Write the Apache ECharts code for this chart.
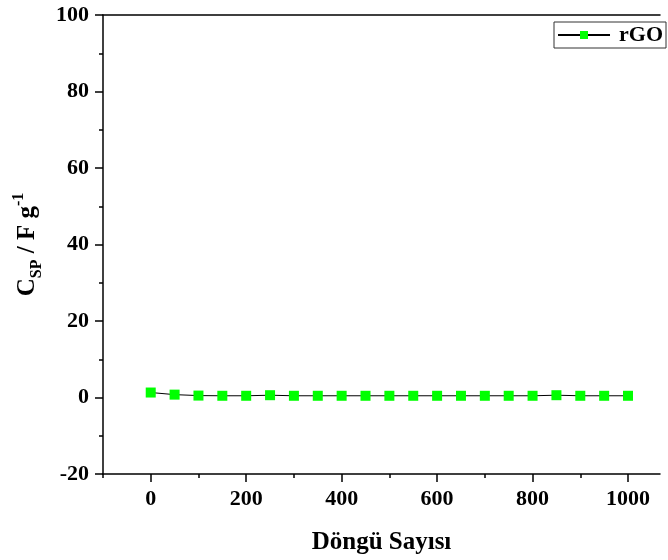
<!DOCTYPE html>
<html><head><meta charset="utf-8">
<script src="https://cdn.jsdelivr.net/npm/echarts@6/dist/echarts.min.js"></script>
<style>html,body{margin:0;padding:0;background:#fff}#c{width:668px;height:560px}</style>
</head><body><div id="c"></div>
<script>
const cycles = [0,50,100,150,200,250,300,350,400,450,500,550,600,650,700,750,800,850,900,950,1000];
const csp = [1.3,0.75,0.5,0.45,0.45,0.6,0.45,0.45,0.45,0.45,0.45,0.45,0.45,0.45,0.45,0.45,0.45,0.6,0.45,0.45,0.45];
const xTickLabels = [0,200,400,600,800,1000];
const xMinorTicks = [-100,100,300,500,700,900];
const seriesName = 'rGO';
const xTitle = 'Döngü Sayısı';

const FONT = '"Liberation Serif", "Times New Roman", serif';
const chart = echarts.init(document.getElementById('c'));
const xRange = {min: -100, max: 1067};
chart.setOption({
  animation: false,
  backgroundColor: '#fff',
  textStyle: {fontFamily: FONT},
  grid: {left: 103, top: 15, right: 8, bottom: 86, containLabel: false},
  legend: {
    show: true, right: 2, top: 22, orient: 'vertical',
    borderColor: '#333', borderWidth: 1, padding: [2, 3, 2, 3],
    itemWidth: 52, itemHeight: 10, itemGap: 4,
    textStyle: {fontFamily: FONT, fontWeight: 'bold', fontSize: 22, color: '#000', padding: [0, 0, 0, 4]},
    data: [seriesName]
  },
  xAxis: [
    {
      type: 'value', position: 'bottom', ...xRange,
      name: xTitle, nameLocation: 'middle', nameGap: 56,
      nameTextStyle: {fontFamily: FONT, fontWeight: 'bold', fontSize: 25, color: '#000'},
      axisLine: {show: true, onZero: false, lineStyle: {color: '#000', width: 1.5}},
      axisTick: {show: true, inside: false, length: 8, lineStyle: {color: '#000', width: 1.5}, customValues: xTickLabels},
      axisLabel: {show: true, margin: 14, fontFamily: FONT, fontWeight: 'bold', fontSize: 22, color: '#000', customValues: xTickLabels, formatter: v => String(v)},
      splitLine: {show: false}
    },
    {
      type: 'value', position: 'bottom', ...xRange, gridIndex: 0,
      axisLine: {show: false, onZero: false},
      axisTick: {show: true, inside: false, length: 4, lineStyle: {color: '#000', width: 1.5}, customValues: xMinorTicks},
      axisLabel: {show: false, customValues: xMinorTicks},
      splitLine: {show: false}
    },
    {
      type: 'value', position: 'top', ...xRange, gridIndex: 0,
      axisLine: {show: true, onZero: false, lineStyle: {color: '#000', width: 1.5}},
      axisTick: {show: false}, axisLabel: {show: false}, splitLine: {show: false}
    }
  ],
  yAxis: {
    type: 'value', min: -20, max: 100, interval: 20,
    name: '{b|C}{sub|SP}{b| / F g}{sup|-1}', nameLocation: 'middle', nameGap: 58, nameRotate: 90,
    nameTextStyle: {
      rich: {
        b: {fontFamily: FONT, fontWeight: 'bold', fontSize: 25, color: '#000', verticalAlign: 'middle', lineHeight: 34},
        sub: {fontFamily: FONT, fontWeight: 'bold', fontSize: 16, color: '#000', verticalAlign: 'bottom', lineHeight: 34, padding: [9, 0, 0, 0]},
        sup: {fontFamily: FONT, fontWeight: 'bold', fontSize: 16, color: '#000', verticalAlign: 'top', lineHeight: 34, padding: [0, 0, 11, 0]}
      }
    },
    axisLine: {show: true, onZero: false, lineStyle: {color: '#000', width: 1.5}},
    axisTick: {show: true, inside: false, length: 8, lineStyle: {color: '#000', width: 1.5}},
    minorTick: {show: true, splitNumber: 2, length: 4, lineStyle: {color: '#000', width: 1.5}},
    axisLabel: {margin: 14, fontFamily: FONT, fontWeight: 'bold', fontSize: 22, color: '#000'},
    splitLine: {show: false}
  },
  series: [{
    name: seriesName, type: 'line', xAxisIndex: 0,
    data: cycles.map((c, i) => [c, csp[i]]),
    symbol: 'rect', symbolSize: 10,
    itemStyle: {color: '#00ff00', borderWidth: 0},
    lineStyle: {color: '#000', width: 1}
  }]
});
</script></body></html>
